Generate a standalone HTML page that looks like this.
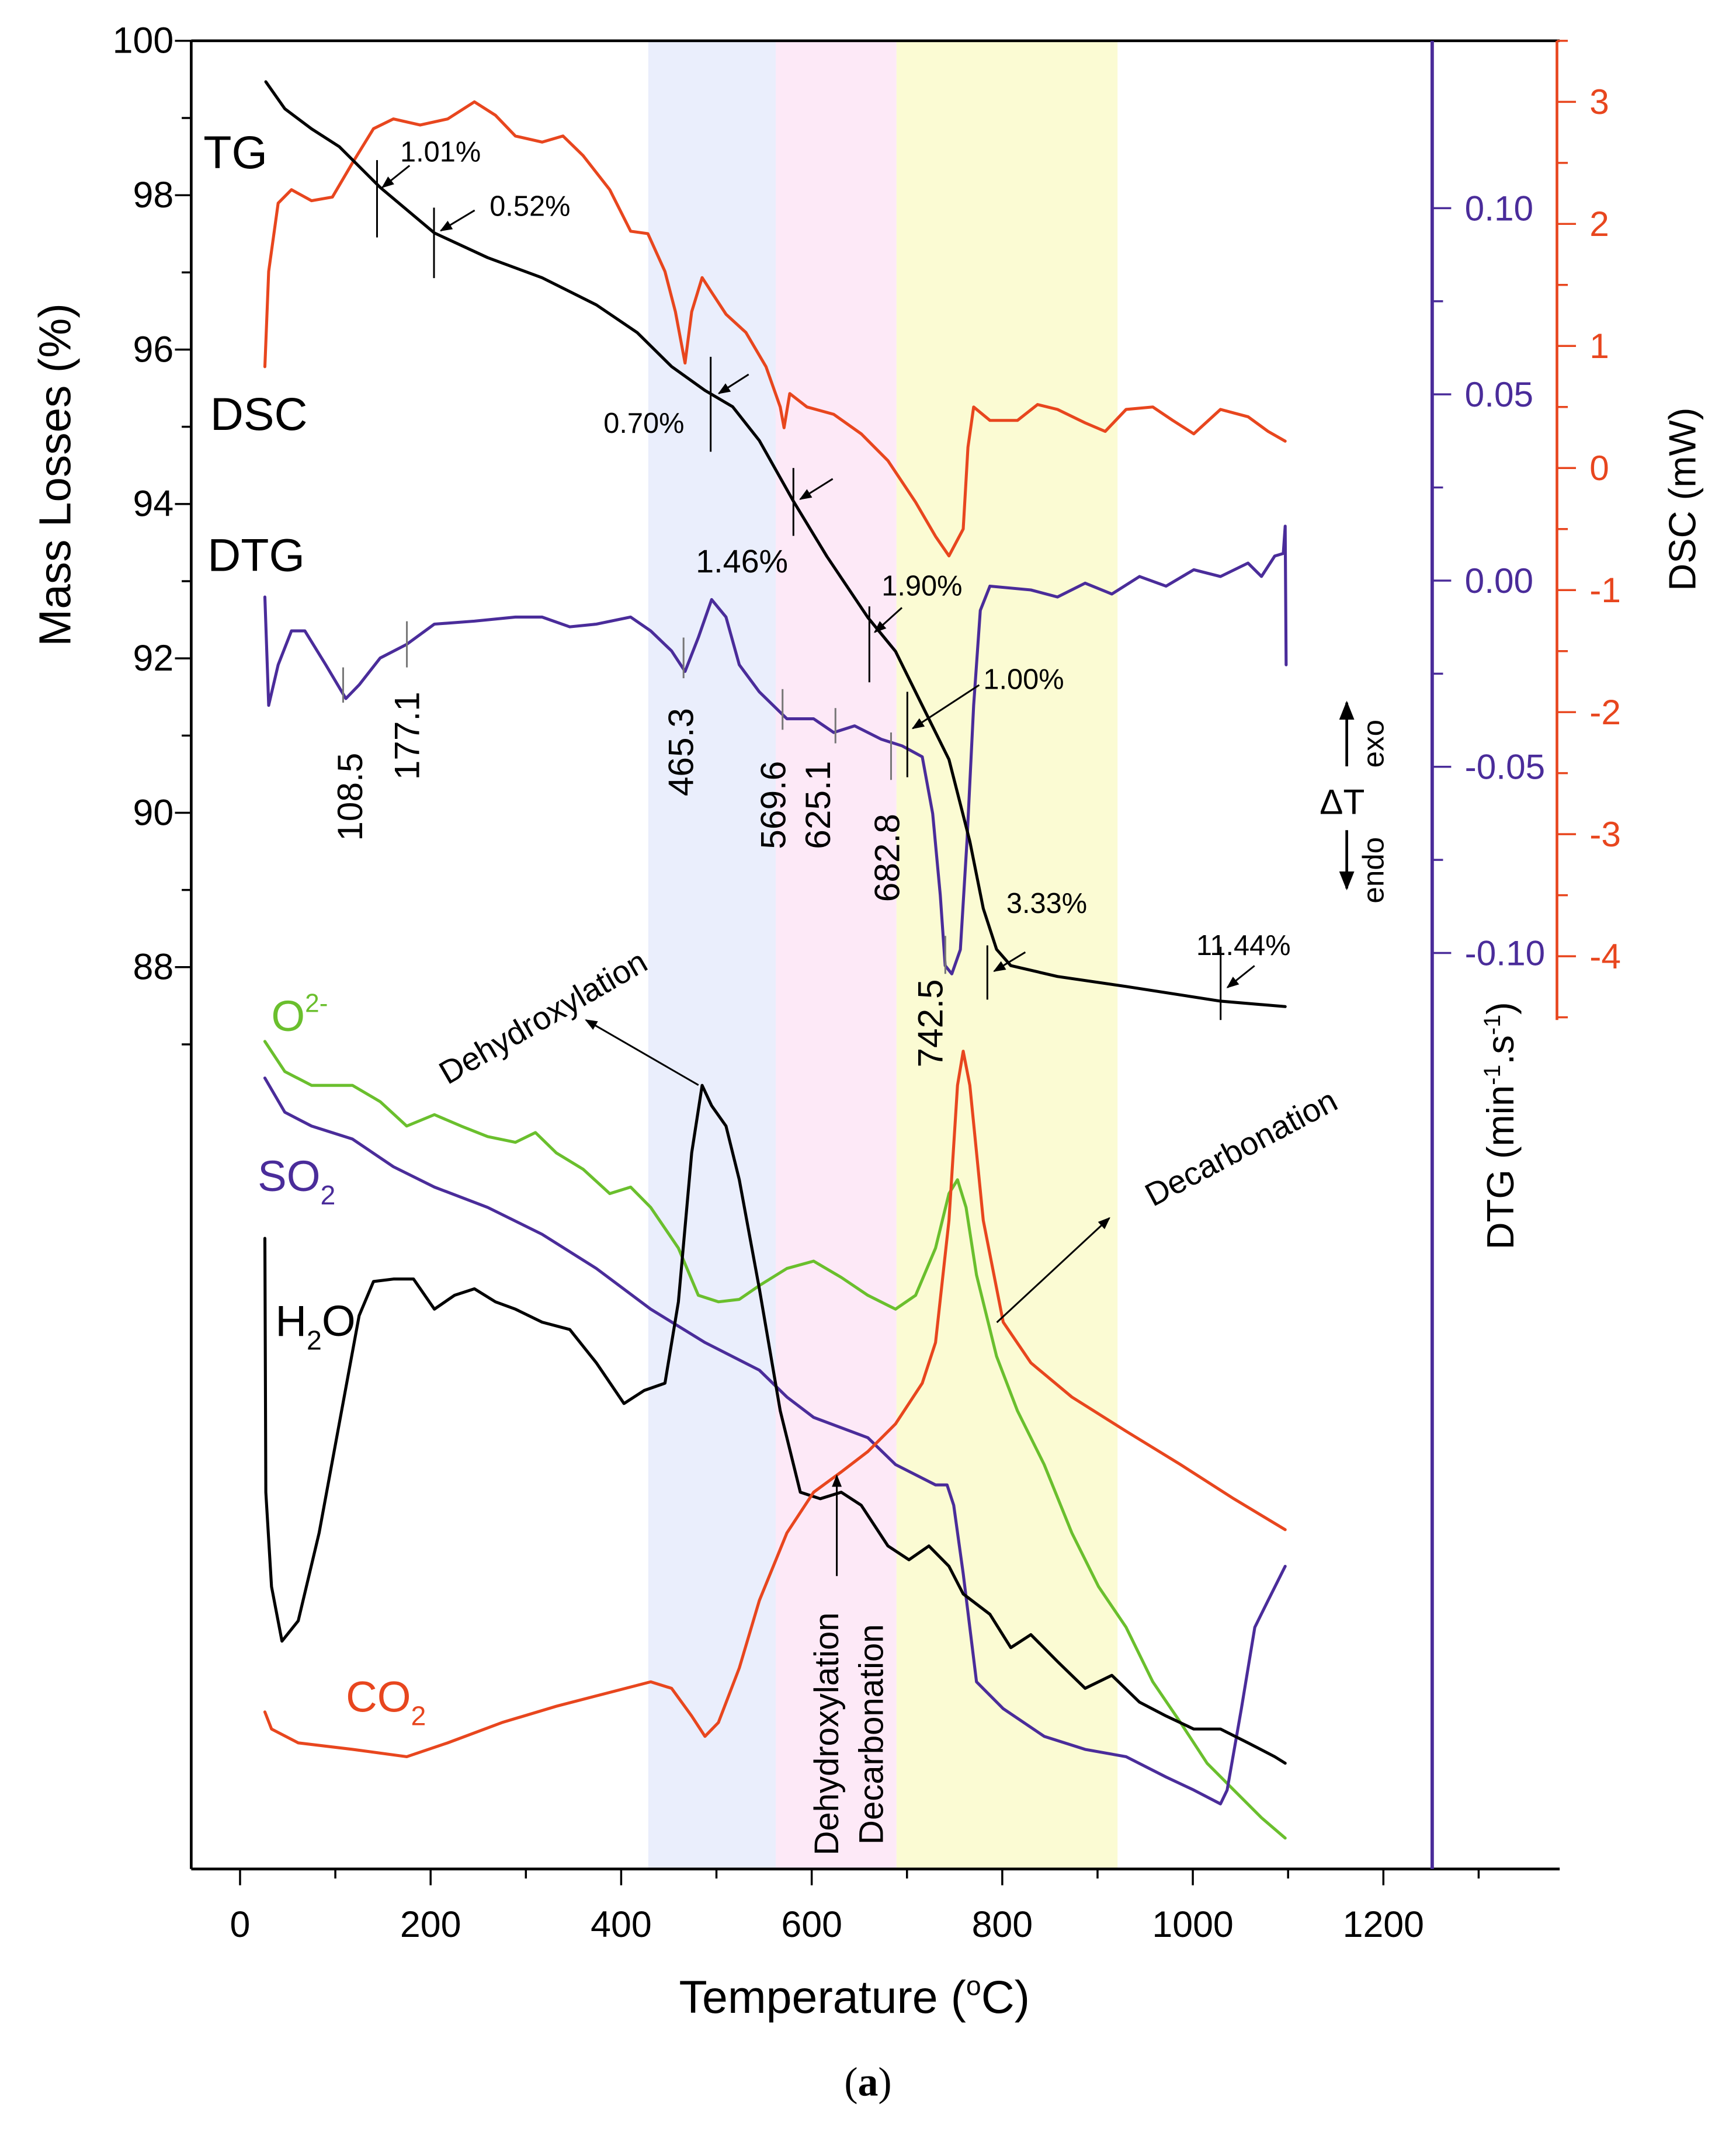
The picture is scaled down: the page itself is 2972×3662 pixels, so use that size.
<!DOCTYPE html>
<html><head><meta charset="utf-8"><style>
html,body{margin:0;padding:0;background:#fff;}
svg{display:block;font-family:"Liberation Sans",sans-serif;}
</style></head><body>
<svg id="chart" width="2972" height="3662" viewBox="0 0 1280 1577" xmlns="http://www.w3.org/2000/svg">
<defs>
<marker id="ah" viewBox="0 0 10 10" refX="9" refY="5" markerWidth="7" markerHeight="7" orient="auto"><path d="M0,1 L10,5 L0,9 z" fill="#000"/></marker>
</defs>
<rect x="0" y="0" width="1280" height="1577" fill="#fff"/>
<g id="bands">
<rect x="478" y="30" width="94" height="1348" fill="#eaeefc"/>
<rect x="572" y="30" width="89" height="1348" fill="#fde9f7"/>
<rect x="661" y="30" width="163" height="1348" fill="#fbfbd3"/>
</g>
<g id="axes"></g>
<g id="series"></g>
<g id="annot" font-size="21">
<text x="150" y="124" font-size="34">TG</text>
<text x="155" y="317" font-size="34">DSC</text>
<text x="153" y="421" font-size="34">DTG</text>
<text x="295" y="119">1.01%</text>
<text x="361" y="159">0.52%</text>
<text x="445" y="319">0.70%</text>
<text x="513" y="422" font-size="24">1.46%</text>
<text x="650" y="439">1.90%</text>
<text x="725" y="508">1.00%</text>
<text x="742" y="673">3.33%</text>
<text x="882" y="704">11.44%</text>
<g stroke="#000" stroke-width="1.3">
<line x1="278" y1="118" x2="278" y2="175"/><line x1="320" y1="153" x2="320" y2="205"/>
<line x1="524" y1="263" x2="524" y2="333"/><line x1="585" y1="345" x2="585" y2="395"/>
<line x1="641" y1="447" x2="641" y2="503"/><line x1="669" y1="510" x2="669" y2="573"/>
<line x1="728" y1="697" x2="728" y2="737"/><line x1="900" y1="698" x2="900" y2="752"/>
<line x1="302" y1="122" x2="282" y2="138" marker-end="url(#ah)"/>
<line x1="350" y1="155" x2="325" y2="170" marker-end="url(#ah)"/>
<line x1="552" y1="276" x2="530" y2="290" marker-end="url(#ah)"/>
<line x1="614" y1="353" x2="590" y2="368" marker-end="url(#ah)"/>
<line x1="665" y1="448" x2="645" y2="466" marker-end="url(#ah)"/>
<line x1="722" y1="505" x2="673" y2="537" marker-end="url(#ah)"/>
<line x1="756" y1="702" x2="733" y2="716" marker-end="url(#ah)"/>
<line x1="925" y1="712" x2="905" y2="728" marker-end="url(#ah)"/>
<line x1="515" y1="800" x2="432" y2="752" marker-end="url(#ah)"/>
<line x1="735" y1="975" x2="818" y2="898" marker-end="url(#ah)"/>
<line x1="617" y1="1162" x2="617" y2="1088" marker-end="url(#ah)"/>
</g>
<g stroke="#777" stroke-width="1.3">
<line x1="253" y1="492" x2="253" y2="518"/><line x1="300" y1="458" x2="300" y2="492"/>
<line x1="504" y1="470" x2="504" y2="500"/><line x1="577" y1="508" x2="577" y2="538"/>
<line x1="616" y1="522" x2="616" y2="548"/><line x1="657" y1="540" x2="657" y2="575"/>
<line x1="697" y1="690" x2="697" y2="718"/>
</g>
<g font-size="26">
<text transform="translate(267,620) rotate(-90)">108.5</text>
<text transform="translate(309,575) rotate(-90)">177.1</text>
<text transform="translate(511,587) rotate(-90)">465.3</text>
<text transform="translate(579,626) rotate(-90)">569.6</text>
<text transform="translate(612,626) rotate(-90)">625.1</text>
<text transform="translate(663,665) rotate(-90)">682.8</text>
<text transform="translate(695,787) rotate(-90)">742.5</text>
</g>
<text x="200" y="760" font-size="32" fill="#6abf2d">O<tspan font-size="19" dy="-14">2-</tspan></text>
<text x="190" y="878" font-size="32" fill="#4a2c9a">SO<tspan font-size="20" dy="10">2</tspan></text>
<text x="203" y="985" font-size="32" fill="#000">H<tspan font-size="20" dy="10">2</tspan><tspan dy="-10">O</tspan></text>
<text x="255" y="1262" font-size="32" fill="#e8461e">CO<tspan font-size="20" dy="10">2</tspan></text>
<text transform="translate(330,800) rotate(-30)" font-size="24">Dehydroxylation</text>
<text transform="translate(850,890) rotate(-28)" font-size="24">Decarbonation</text>
<text transform="translate(618,1368) rotate(-90)" font-size="25">Dehydroxylation</text>
<text transform="translate(651,1360) rotate(-90)" font-size="25">Decarbonation</text>
<g>
<text transform="translate(1020,566) rotate(-90)" font-size="22">exo</text>
<text x="973" y="600" font-size="26">ΔT</text>
<text transform="translate(1020,666) rotate(-90)" font-size="22">endo</text>
<line x1="993" y1="565" x2="993" y2="518" stroke="#000" stroke-width="2" marker-end="url(#ah)"/>
<line x1="993" y1="612" x2="993" y2="655" stroke="#000" stroke-width="2" marker-end="url(#ah)"/>
</g>
<text x="640" y="1545" font-size="30" text-anchor="middle" font-family="Liberation Serif, serif">(<tspan font-weight="bold">a</tspan>)</text>
</g>
</svg>
<script>
// TG (mass %)
const tgT=[27,47,75,104,147,204,260,317,374,417,453,488,517,545,581,616,659,688,716,744,766,780,794,809,858,930,1029,1097];
const tgMass=[99.47,99.12,98.86,98.63,98.10,97.51,97.19,96.93,96.58,96.22,95.78,95.47,95.26,94.82,94.03,93.32,92.53,92.09,91.39,90.69,89.63,88.76,88.23,88.02,87.88,87.75,87.56,87.49];
// DSC (mW)
const dscT=[26,30,40,54,75,97,118,140,161,189,218,246,268,289,317,339,360,388,410,428,446,457,467,474,485,495,510,531,552,567,571,577,595,623,652,680,709,730,744,759,764,770,787,816,837,858,887,908,930,958,979,1001,1029,1058,1079,1097];
const dscVal=[0.83,1.61,2.17,2.28,2.19,2.22,2.5,2.78,2.86,2.81,2.86,3.0,2.89,2.72,2.67,2.72,2.56,2.28,1.94,1.92,1.61,1.28,0.86,1.28,1.56,1.44,1.26,1.11,0.83,0.5,0.33,0.61,0.5,0.44,0.28,0.06,-0.28,-0.56,-0.72,-0.5,0.17,0.5,0.39,0.39,0.52,0.48,0.37,0.3,0.48,0.5,0.39,0.28,0.48,0.42,0.3,0.22];
// DTG
const dtgT=[26,30,40,54,68,90,111,125,147,175,204,246,289,317,346,374,410,431,453,467,481,495,510,524,545,574,602,623,645,673,695,716,727,735,740,747,756,763,770,777,787,830,858,887,915,944,972,1001,1029,1058,1072,1086,1095,1097,1098];
const dtgVal=[-0.0044,-0.0335,-0.0226,-0.0135,-0.0135,-0.0226,-0.0317,-0.028,-0.0208,-0.0171,-0.0117,-0.0109,-0.0098,-0.0098,-0.0124,-0.0117,-0.0098,-0.0135,-0.0189,-0.0244,-0.0153,-0.0051,-0.0098,-0.0226,-0.0299,-0.0371,-0.0371,-0.0408,-0.039,-0.0426,-0.0444,-0.0473,-0.0626,-0.0845,-0.1034,-0.1056,-0.0991,-0.0699,-0.0335,-0.008,-0.0015,-0.0025,-0.0044,-0.0007,-0.0036,0.0011,-0.0015,0.0029,0.0011,0.0047,0.0011,0.0066,0.0073,0.0146,-0.0226];
// Gas intensities (arbitrary units)
const o2T=[26,47,75,118,147,175,204,232,260,289,310,332,360,388,410,431,460,481,502,524,545,574,602,631,659,688,709,730,744,753,762,773,794,816,844,873,901,930,958,987,1015,1043,1072,1097];
const o2Val=[101.7,98,96.3,96.3,94.3,91.3,92.7,91.3,90,89.3,90.5,88,86,83,83.8,81.3,76.3,70.5,69.7,70,71.7,73.8,74.7,72.7,70.5,68.8,70.5,76.3,83,84.7,81.3,73,63,56.3,49.7,41.3,34.7,29.7,23,18,13,9.7,6.3,3.8];
const so2T=[26,47,75,118,161,204,260,317,374,431,488,545,574,602,659,688,730,742,749,759,773,801,844,887,930,972,1001,1029,1036,1051,1065,1079,1097];
const so2Val=[97.2,93,91.3,89.7,86.3,83.8,81.3,78,73.8,68.8,64.7,61.3,58,55.5,53,49.7,47.2,47.2,44.7,36.3,23,19.7,16.3,14.7,13.8,11.3,9.7,8,9.7,19.7,29.7,33,37.2];
const h2oT=[26,27,33,44,61,83,104,125,140,161,182,204,225,246,268,289,317,346,374,403,424,446,460,474,485,495,510,524,545,567,588,609,631,652,680,702,723,744,759,787,809,830,858,887,915,944,972,1001,1029,1058,1086,1097];
const h2oVal=[77.5,46.3,34.7,28,30.5,41.3,54.7,68,72.2,72.5,72.5,68.8,70.5,71.3,69.7,68.8,67.2,66.3,62.2,57.2,58.8,59.7,69.7,88,96.3,93.8,91.3,84.7,71.3,56.3,46.3,45.5,46.3,44.7,39.7,38,39.7,37.2,33.8,31.3,27.2,28.8,25.5,22.2,23.8,20.5,18.8,17.2,17.2,15.5,13.8,13];
const co2T=[26,33,61,118,175,218,275,332,388,431,453,474,488,502,524,545,574,602,631,659,688,716,730,744,753,759,766,780,801,830,873,930,987,1043,1097];
const co2Val=[19.3,17.2,15.5,14.7,13.8,15.5,18,20,21.7,23,22.2,18.8,16.3,18,24.7,33,41.3,46.3,48.8,51.3,54.7,59.7,64.7,79.7,96.3,100.5,96.3,79.7,67.2,62.2,58,53.8,49.7,45.5,41.7];
// tick labels
const xTicks=[0,200,400,600,800,1000,1200];
const massTicks=[100,98,96,94,92,90,88];
const dtgTicks=[0.10,0.05,0.00,-0.05,-0.10];
const dscTicks=[3,2,1,0,-1,-2,-3,-4];

const NS='http://www.w3.org/2000/svg';
const xs=t=>177+0.7025*t;
const yMass=m=>30+(100-m)*56.92;
const yDtg=v=>428-v*2746;
const yDsc=v=>345-v*90;
const yGas=v=>1378-6*v;
function mk(tag,attrs,parent){const e=document.createElementNS(NS,tag);for(const k in attrs)e.setAttribute(k,attrs[k]);parent.appendChild(e);return e;}
const ax=document.getElementById('axes');
const se=document.getElementById('series');
function line(x1,y1,x2,y2,c,w){return mk('line',{x1,y1,x2,y2,stroke:c,'stroke-width':w},ax);}
let e;
e=line(141,30,1150,30,'#000',2);


e=line(141,30,141,1378,'#000',2);


e=line(141,1378,1150,1378,'#000',2);


e=line(1056,30,1056,1378,'#4a2c9a',2.5);


e=line(1148,30,1148,752,'#e8461e',2);


for(let t=0;t<=1300;t+=100){const major=t%200===0;line(xs(t),1378,xs(t),1378+(major?12:7),'#000',1.5);}
xTicks.forEach(t=>{const tx=mk('text',{x:xs(t),y:1428,'font-size':27,'text-anchor':'middle'},ax);tx.textContent=t;

});
for(let m=100;m>=87;m-=1){line(141,yMass(m),141-(m%2===0?12:7),yMass(m),'#000',1.5);}
massTicks.forEach(m=>{const tx=mk('text',{x:128,y:yMass(m)+9,'font-size':27,'text-anchor':'end'},ax);tx.textContent=m;

});
for(let i=-4;i<=4;i++){const v=i*0.025;line(1056,yDtg(v),1056+(i%2===0?14:8),yDtg(v),'#4a2c9a',1.5);}
dtgTicks.forEach(v=>{const tx=mk('text',{x:1080,y:yDtg(v)+9,'font-size':26,fill:'#4a2c9a'},ax);tx.textContent=v.toFixed(2);

});
for(let i=-9;i<=7;i++){const v=i*0.5;if(yDsc(v)<30||yDsc(v)>752)continue;line(1148,yDsc(v),1148+(i%2===0?14:8),yDsc(v),'#e8461e',1.5);}
dscTicks.forEach(v=>{const tx=mk('text',{x:1172,y:yDsc(v)+9,'font-size':26,fill:'#e8461e'},ax);tx.textContent=v;

});
let t1=mk('text',{transform:'translate(52,350) rotate(-90)','font-size':33,'text-anchor':'middle'},ax);t1.textContent='Mass Losses (%)';


let t2=mk('text',{x:630,y:1484,'font-size':34,'text-anchor':'middle'},ax);t2.innerHTML='Temperature (<tspan font-size="20" dy="-13">o</tspan><tspan dy="13">C)</tspan>';


let t3=mk('text',{transform:'translate(1250,368) rotate(-90)','font-size':28,'text-anchor':'middle'},ax);t3.textContent='DSC (mW)';


let t4=mk('text',{transform:'translate(1116,830) rotate(-90)','font-size':28,'text-anchor':'middle'},ax);t4.innerHTML='DTG (min<tspan font-size="17" dy="-10">-1</tspan><tspan dy="10">.s</tspan><tspan font-size="17" dy="-10">-1</tspan><tspan dy="10">)</tspan>';


function draw(T,V,yf,color,name){
  const pts=T.map((t,i)=>[xs(t),yf(V[i])]);
  let d='M'+pts[0][0].toFixed(1)+','+pts[0][1].toFixed(1);
  for(let i=1;i<pts.length;i++){d+=' L'+pts[i][0].toFixed(1)+','+pts[i][1].toFixed(1);}
  const p=mk('path',{d,fill:'none',stroke:color,'stroke-width':2.2,'stroke-linejoin':'round','stroke-linecap':'round'},se);
  
  
}
draw(dscT,dscVal,yDsc,'#e8461e','dsc-curve');
draw(dtgT,dtgVal,yDtg,'#4a2c9a','dtg-curve');
draw(o2T,o2Val,yGas,'#6abf2d','o2-curve');
draw(so2T,so2Val,yGas,'#4a2c9a','so2-curve');
draw(h2oT,h2oVal,yGas,'#000','h2o-curve');
draw(co2T,co2Val,yGas,'#e8461e','co2-curve');
draw(tgT,tgMass,yMass,'#000','tg-curve');
</script>
</body></html>
